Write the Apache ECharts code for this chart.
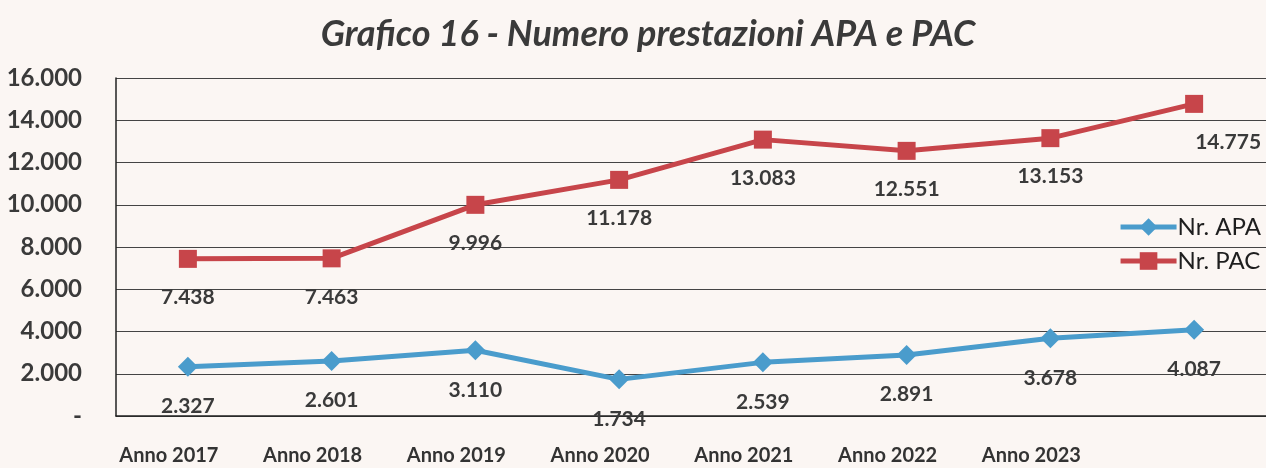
<!DOCTYPE html>
<html><head><meta charset="utf-8">
<script src="https://cdn.jsdelivr.net/npm/echarts@6/dist/echarts.min.js"></script>
<style>html,body{margin:0;padding:0;background:#fbf6f3;}#c{width:1266px;height:468px;}</style>
</head><body><div id="c"></div>
<script>
const categories = ['Anno 2017','Anno 2018','Anno 2019','Anno 2020','Anno 2021','Anno 2022','Anno 2023',''];
const apaValues = [2327, 2601, 3110, 1734, 2539, 2891, 3678, 4087];
const pacValues = [7438, 7463, 9996, 11178, 13083, 12551, 13153, 14775];
const yTicks = [0, 2000, 4000, 6000, 8000, 10000, 12000, 14000, 16000];

function fmt(v){ if(v===0) return '-'; return String(v).replace(/\B(?=(\d{3})+(?!\d))/g,'.'); }
const FONT = 'Lato';
const chart = echarts.init(document.getElementById('c'), null, {renderer:'canvas'});
chart.setOption({
  backgroundColor:'#fbf6f3',
  animation:false,
  title:{text:'Grafico 16 - Numero prestazioni APA e PAC', left:643, top:11, textAlign:'center',
    textStyle:{fontFamily:FONT, fontStyle:'italic', fontWeight:'bold', fontSize:36, color:'#3a3a3a'}},
  legend:{orient:'vertical', right:0, top:210, itemGap:10, itemWidth:56, itemHeight:22,
    lineStyle:{width:5},
    textStyle:{fontFamily:FONT, fontSize:24, color:'#1e1e1e', padding:[0,0,0,-4]},
    data:['Nr. APA','Nr. PAC']},
  grid:{left:116, top:78, width:1155, height:338, containLabel:false},
  xAxis:{type:'category', data:categories, boundaryGap:true,
    axisLine:{show:true, lineStyle:{color:'#222', width:1.5}},
    axisTick:{show:false},
    axisLabel:{fontFamily:FONT, fontWeight:'bold', fontSize:20, color:'#333', margin:30, interval:0, padding:[0,38,0,0]}},
  yAxis:{type:'value', min:0, max:16000, interval:2000,
    axisLine:{show:true, lineStyle:{color:'#222', width:1.5}},
    axisTick:{show:false},
    splitLine:{lineStyle:{color:'#444', width:1.2}},
    axisLabel:{fontFamily:FONT, fontWeight:'bold', fontSize:24, color:'#3a3a3a', margin:34, formatter:fmt}},
  series:[
    {name:'Nr. APA', type:'line', data:apaValues, symbol:'diamond', symbolSize:20,
     lineStyle:{color:'#4a9ccc', width:5}, itemStyle:{color:'#4a9ccc'},
     label:{show:true, position:'bottom', distance:19, fontFamily:FONT, fontWeight:'bold', fontSize:21, color:'#3a3a3a', formatter:p=>fmt(p.value)}},
    {name:'Nr. PAC', type:'line', data:pacValues.map((v,i)=> i===pacValues.length-1 ? {value:v, label:{offset:[34,0]}} : v),
     symbol:'rect', symbolSize:18,
     lineStyle:{color:'#c7454a', width:5}, itemStyle:{color:'#c7454a'},
     label:{show:true, position:'bottom', distance:19, fontFamily:FONT, fontWeight:'bold', fontSize:21, color:'#3a3a3a', formatter:p=>fmt(p.value)}}
  ]
});
</script></body></html>
